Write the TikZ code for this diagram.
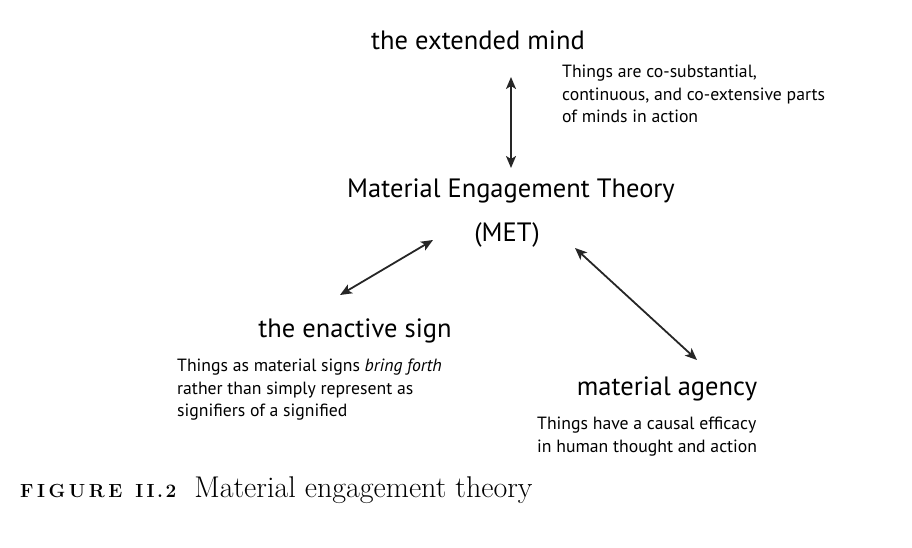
\documentclass[tikz,border=0pt]{standalone}
\usepackage{fontspec}
\setsansfont{PT Sans}
\usepackage{tikz}
\usetikzlibrary{arrows.meta}

\newcommand{\figlabel}{{\fontsize{19}{20}\selectfont\bfseries
  F\kern3.5pt I\kern3.5pt G\kern3.5pt U\kern3.5pt R\kern3.5pt E\hspace{13pt}I\kern3.5pt I\kern2.5pt.\kern2.5pt 2}}

\tikzset{
  concept/.style={font=\sffamily\fontsize{26.5}{30}\selectfont, inner sep=1pt},
  gloss/.style={font=\sffamily\fontsize{17.7}{22.5}\selectfont, align=left, anchor=north west, inner sep=0pt},
  link/.style={{Stealth[length=12pt,width=10pt,inset=3pt]}-{Stealth[length=12pt,width=10pt,inset=3pt]}, line width=1.8pt, color=black!85}
}

\begin{document}
\begin{tikzpicture}[x=1pt,y=-1pt]
    \useasboundingbox (0,0) rectangle (912,548);
    \node[concept] (mind) at (478,40) {the extended mind};
    \node[concept] (met) at (511,191) {Material Engagement Theory};
    \node[concept] (metb) at (507,235) {(MET)};
    \node[concept] (sign) at (355,331) {the enactive sign};
    \node[concept] (agency) at (667,389) {material agency};
    \node[gloss] (g1) at (562,65) {Things are co-substantial,\\continuous, and co-extensive parts\\of minds in action};
    \node[gloss] (g2) at (177,359) {Things as material signs \textit{bring forth}\\rather than simply represent as\\signifiers of a signified};
    \node[gloss] (g3) at (537,417) {Things have a causal efficacy\\in human thought and action};
    \node[anchor=west, font=\fontsize{30}{34}\selectfont, inner sep=0pt] (cap) at (20,490)
      {\figlabel\hspace{18pt}Material engagement theory};
    \coordinate (a1) at (511,77);
    \coordinate (a2) at (511,168);
    \coordinate (b1) at (433,240);
    \coordinate (b2) at (340,295);
    \coordinate (c1) at (575,248);
    \coordinate (c2) at (697,360);
    \draw[link] (a1)--(a2);
    \draw[link] (b1)--(b2);
    \draw[link] (c1)--(c2);
\end{tikzpicture}
\end{document}
